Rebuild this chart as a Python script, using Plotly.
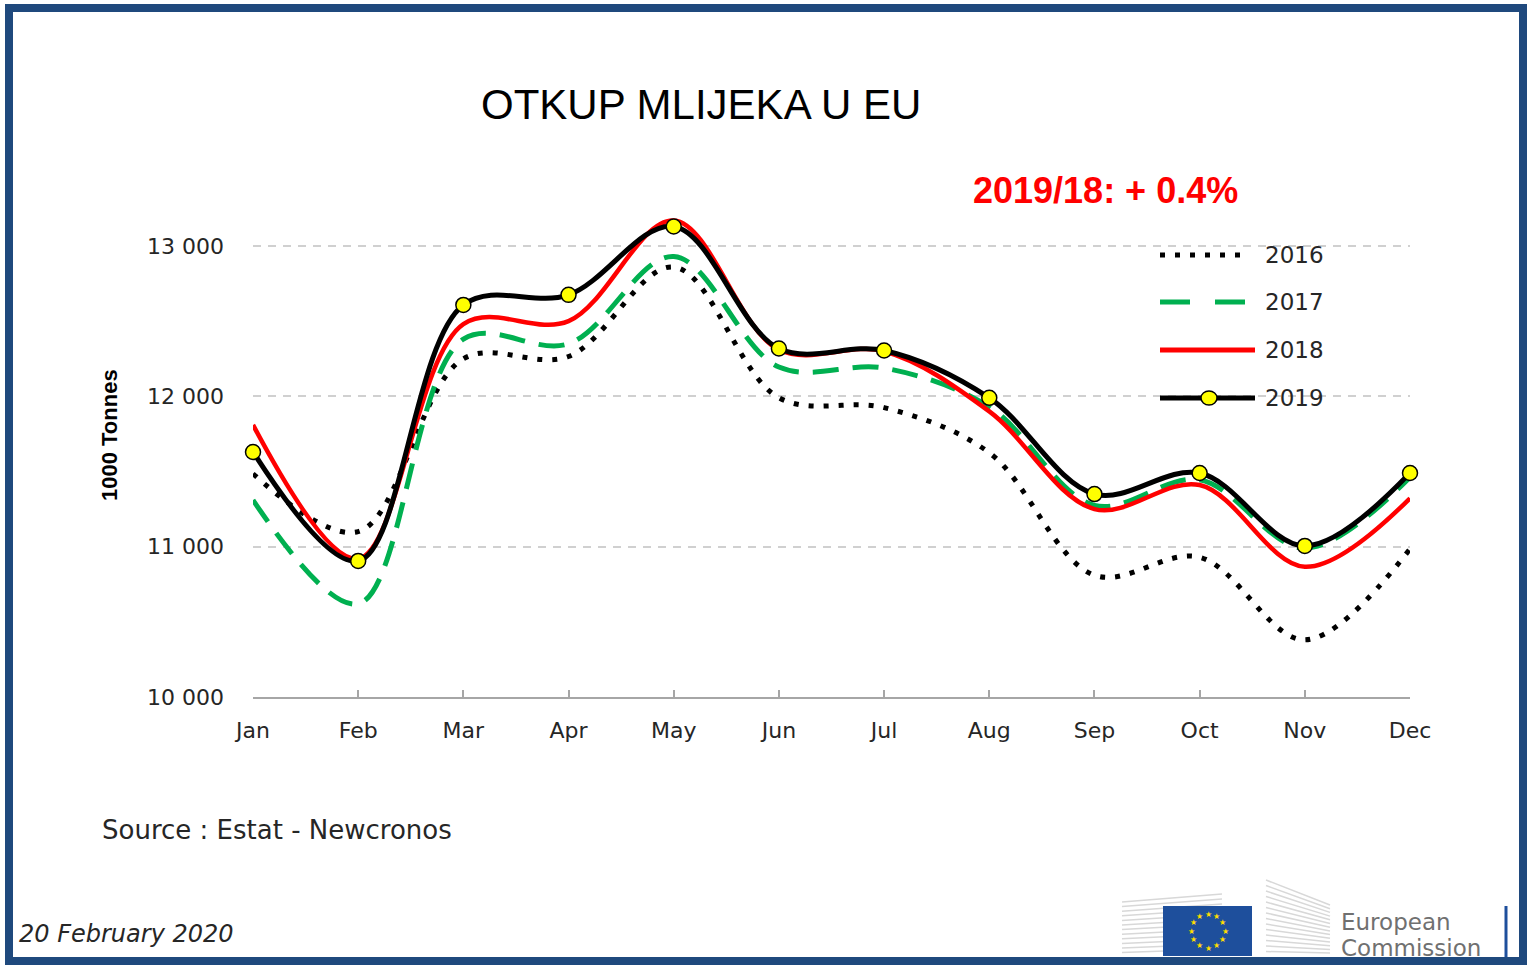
import math
import plotly.graph_objects as go

# ---------------- data ----------------
months = ["Jan", "Feb", "Mar", "Apr", "May", "Jun", "Jul", "Aug", "Sep", "Oct", "Nov", "Dec"]
y2016 = [11485, 11100, 12250, 12265, 12860, 11990, 11925, 11625, 10810, 10930, 10380, 10985]
y2017 = [11310, 10620, 12380, 12350, 12930, 12195, 12188, 11930, 11275, 11445, 10990, 11462]
y2018 = [11810, 10920, 12480, 12500, 13170, 12310, 12300, 11900, 11250, 11410, 10866, 11322]
y2019 = [11630, 10905, 12608, 12675, 13130, 12318, 12305, 11990, 11350, 11490, 11005, 11490]
ytick_vals = [10000, 11000, 12000, 13000]
ytick_text = ["10 000", "11 000", "12 000", "13 000"]
series_names = ["2016", "2017", "2018", "2019"]

# ---------------- geometry helpers ----------------
FW, FH = 1528, 965
ML, MR, MT, MB = 253, 118, 193, 268
PW = FW - ML - MR
PH = FH - MT - MB
BOT = FH - MB
SANS = "DejaVu Sans"


def PX(x):
    return (x - ML) / PW


def PY(y):
    return (BOT - y) / PH


xi = list(range(len(months)))

fig = go.Figure()

fig.add_trace(go.Scatter(x=xi, y=y2016, name=series_names[0], mode="lines",
                         line=dict(color="black", width=5, dash="5px,10px", shape="spline", smoothing=1.0)))
fig.add_trace(go.Scatter(x=xi, y=y2017, name=series_names[1], mode="lines",
                         line=dict(color="#00B050", width=5, dash="26px,14px", shape="spline", smoothing=1.0)))
fig.add_trace(go.Scatter(x=xi, y=y2018, name=series_names[2], mode="lines",
                         line=dict(color="#FF0000", width=4.5, shape="spline", smoothing=1.0)))
fig.add_trace(go.Scatter(x=xi, y=y2019, name=series_names[3], mode="lines+markers",
                         line=dict(color="black", width=5, shape="spline", smoothing=1.0),
                         marker=dict(symbol="circle", size=15, color="#FFFF00",
                                     line=dict(color="black", width=1.5)),
                         cliponaxis=False))

shapes = []
annotations = []

# outer frame
shapes.append(dict(type="rect", xref="paper", yref="paper",
                   x0=PX(9), x1=PX(1523), y0=PY(961), y1=PY(8),
                   line=dict(color="#1F497D", width=8), layer="below"))

# custom legend
leg_y = [255, 302, 350, 398]
shapes.append(dict(type="line", xref="paper", yref="paper", x0=PX(1160), x1=PX(1248),
                   y0=PY(leg_y[0]), y1=PY(leg_y[0]), line=dict(color="black", width=5, dash="5px,10px")))
shapes.append(dict(type="line", xref="paper", yref="paper", x0=PX(1160), x1=PX(1246),
                   y0=PY(leg_y[1]), y1=PY(leg_y[1]), line=dict(color="#00B050", width=5, dash="30px,25px")))
shapes.append(dict(type="line", xref="paper", yref="paper", x0=PX(1160), x1=PX(1255),
                   y0=PY(leg_y[2]), y1=PY(leg_y[2]), line=dict(color="#FF0000", width=5)))
shapes.append(dict(type="line", xref="paper", yref="paper", x0=PX(1160), x1=PX(1255),
                   y0=PY(leg_y[3]), y1=PY(leg_y[3]), line=dict(color="black", width=5)))
shapes.append(dict(type="circle", xref="paper", yref="paper", x0=PX(1201), x1=PX(1217),
                   y0=PY(leg_y[3] + 7), y1=PY(leg_y[3] - 7), fillcolor="#FFFF00",
                   line=dict(color="black", width=1.5)))
for name, yy in zip(series_names, leg_y):
    annotations.append(dict(text=name, xref="paper", yref="paper", x=PX(1263), y=PY(yy),
                            xanchor="left", yanchor="middle", showarrow=False,
                            font=dict(family=SANS, size=23, color="#262626")))

# title & texts
annotations.append(dict(text="OTKUP MLIJEKA U EU", xref="paper", yref="paper", x=PX(701), y=PY(105),
                        xanchor="center", yanchor="middle", showarrow=False,
                        font=dict(family="Liberation Sans", size=42, color="black")))
annotations.append(dict(text="<b>2019/18: + 0.4%</b>", xref="paper", yref="paper", x=PX(1105), y=PY(190),
                        xanchor="center", yanchor="middle", showarrow=False,
                        font=dict(family="Liberation Sans", size=36, color="#FF0000")))
annotations.append(dict(text="<b>1000 Tonnes</b>", xref="paper", yref="paper", x=PX(109), y=PY(435),
                        xanchor="center", yanchor="middle", showarrow=False, textangle=-90,
                        font=dict(family="Liberation Sans", size=22, color="black")))
annotations.append(dict(text="Source : Estat - Newcronos", xref="paper", yref="paper", x=PX(100), y=PY(830),
                        xanchor="left", yanchor="middle", showarrow=False,
                        font=dict(family=SANS, size=26, color="#262626")))
annotations.append(dict(text="<i>20 February 2020</i>", xref="paper", yref="paper", x=PX(17), y=PY(934),
                        xanchor="left", yanchor="middle", showarrow=False,
                        font=dict(family=SANS, size=24, color="#262626")))

# EU Commission logo (approximation)
for k in range(12):
    yy = 900 + k * 4.6
    shapes.append(dict(type="line", xref="paper", yref="paper",
                       x0=PX(1122), x1=PX(1222), y0=PY(yy + 2), y1=PY(yy - 6 + k * 0.4),
                       line=dict(color="#D8D8D8", width=1.5)))
for k in range(14):
    yy = 880 + k * 5.5
    shapes.append(dict(type="line", xref="paper", yref="paper",
                       x0=PX(1266), x1=PX(1330), y0=PY(yy), y1=PY(905 + k * 3.7),
                       line=dict(color="#D8D8D8", width=1.5)))
shapes.append(dict(type="rect", xref="paper", yref="paper", x0=PX(1163), x1=PX(1252),
                   y0=PY(956), y1=PY(906), fillcolor="#1E4F9C", line=dict(width=0)))
cx, cy, r = 1208, 931, 17
for k in range(12):
    a = 2 * math.pi * k / 12
    annotations.append(dict(text="★", xref="paper", yref="paper",
                            x=PX(cx + r * math.sin(a)), y=PY(cy - r * math.cos(a)),
                            xanchor="center", yanchor="middle", showarrow=False,
                            font=dict(family="DejaVu Sans", size=8, color="#FFDD00")))
annotations.append(dict(text="European", xref="paper", yref="paper", x=PX(1339), y=PY(922),
                        xanchor="left", yanchor="middle", showarrow=False,
                        font=dict(family=SANS, size=23, color="#707070")))
annotations.append(dict(text="Commission", xref="paper", yref="paper", x=PX(1339), y=PY(948),
                        xanchor="left", yanchor="middle", showarrow=False,
                        font=dict(family=SANS, size=23, color="#707070")))
shapes.append(dict(type="line", xref="paper", yref="paper", x0=PX(1506), x1=PX(1506),
                   y0=PY(957), y1=PY(906), line=dict(color="#1E4F9C", width=3)))

ymin = 10000
ymax = ymin + PH / ((697 - 246) / 3000.0)

fig.update_layout(
    width=FW, height=FH,
    margin=dict(l=ML, r=MR, t=MT, b=MB),
    paper_bgcolor="white", plot_bgcolor="white",
    showlegend=False,
    shapes=shapes, annotations=annotations,
    xaxis=dict(range=[0, 11], tickvals=xi, ticktext=months, showgrid=False, zeroline=False,
               showline=True, linecolor="#A6A6A6", linewidth=2,
               ticks="inside", ticklen=7, tickwidth=2, tickcolor="#A6A6A6",
               ticklabelstandoff=13,
               tickfont=dict(family=SANS, size=22, color="#262626")),
    yaxis=dict(range=[ymin, ymax], tickvals=ytick_vals, ticktext=ytick_text,
               showgrid=True, gridcolor="#D0D0D0", gridwidth=1.5, griddash="8px,7px",
               zeroline=False, showline=False, ticks="", ticklabelstandoff=28,
               tickfont=dict(family=SANS, size=22, color="#262626")),
)

fig.write_html("out.html", config={"displayModeBar": False},
               post_script="document.body.style.margin='0';")
